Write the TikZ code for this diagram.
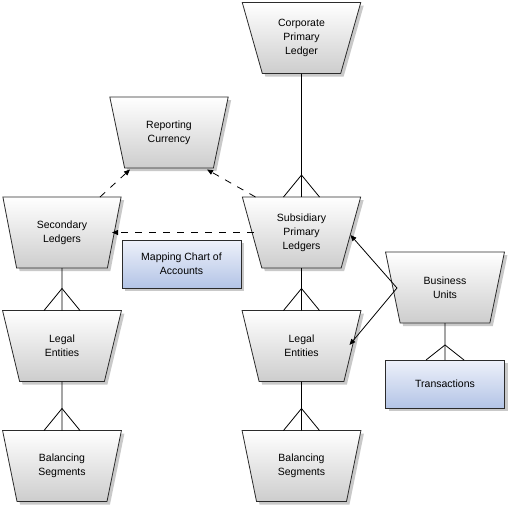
\documentclass[tikz,border=0pt]{standalone}
\usepackage{fontspec}
\setmainfont{Liberation Sans}
\usetikzlibrary{shapes.geometric,shadows,calc,arrows.meta}
\definecolor{edge}{HTML}{2B2B2B}
\definecolor{trapbot}{HTML}{CDCDCD}
\definecolor{boxtop}{HTML}{EEF1FA}
\definecolor{boxbot}{HTML}{B3C4E6}
\tikzset{
  trap/.style={trapezium, trapezium stretches=true, shape border rotate=180,
    trapezium angle=72.3, minimum width=119pt, minimum height=71pt, inner sep=0pt,
    outer sep=0pt, draw=edge, line width=0.8pt, top color=white, bottom color=trapbot,
    drop shadow={shadow xshift=3pt, shadow yshift=-3pt, fill=black!30, opacity=0.7},
    align=center, font=\fontsize{10.5}{14}\selectfont},
  bluebox/.style={rectangle, minimum width=119pt, minimum height=48pt, inner sep=0pt,
    outer sep=0pt, draw=edge, line width=0.8pt, top color=boxtop, bottom color=boxbot,
    drop shadow={shadow xshift=3pt, shadow yshift=-3pt, fill=black!30, opacity=0.7},
    align=center, font=\fontsize{10.5}{14}\selectfont},
  conn/.style={draw=black, line width=0.8pt},
  dconn/.style={draw=black, line width=0.8pt, dash pattern=on 7pt off 7pt,
    -{Triangle[length=6pt,width=5pt]}},
  aconn/.style={draw=black, line width=0.8pt, -{Triangle[length=6pt,width=5pt]}},
}
\begin{document}
\begin{tikzpicture}[x=1pt,y=-1pt]
\useasboundingbox (0,0) rectangle (510,509);
\node[trap] (corp) at (301.5,38) {Corporate\\Primary\\Ledger};
\node[trap] (rep) at (169,132.5) {Reporting\\Currency};
\node[trap] (sec) at (62,232.5) {Secondary\\Ledgers};
\node[trap] (sub) at (301.5,232.5) {Subsidiary\\Primary\\Ledgers};
\node[trap] (leL) at (62,346) {Legal\\Entities};
\node[trap] (leR) at (301.5,346) {Legal\\Entities};
\node[trap] (bsL) at (62,466) {Balancing\\Segments};
\node[trap] (bsR) at (301.5,466) {Balancing\\Segments};
\node[trap] (bu) at (445,287.5) {Business\\Units};
\node[bluebox] (map) at (181.5,264) {Mapping Chart of\\Accounts};
\node[bluebox] (tr) at (445,384) {Transactions};

% one-to-many connectors with crow's feet
\foreach \p/\c/\h in {corp/sub/35.5, sec/leL/35.5, leL/bsL/35.5, sub/leR/35.5, leR/bsR/35.5} {
  \draw[conn] (\p) -- (\c);
  \draw[conn] ($(\c.center)+(-18,-\h)$) -- ($(\c.center)+(0,-\h-22)$) -- ($(\c.center)+(18,-\h)$);
}
\draw[conn] (bu) -- (tr);
\draw[conn] ($(tr.center)+(-19,-24)$) -- ($(tr.center)+(0,-39)$) -- ($(tr.center)+(19,-24)$);

% dashed connectors
\draw[dconn] ($(sub.center)+(-48,0)$) -- ($(sec.center)+(50,0)$);
\draw[dconn] ($(sec.center)+(38,-35.5)$) -- ($(rep.center)+(-39,37)$);
\draw[dconn] ($(sub.center)+(-46,-35.5)$) -- ($(rep.center)+(38,37)$);

% business unit arrows
\draw[aconn] ($(bu.center)+(-48,0.5)$) -- ($(sub.center)+(49,2.5)$);
\draw[aconn] ($(bu.center)+(-48,0.5)$) -- ($(leR.center)+(48,-1)$);
\end{tikzpicture}
\end{document}
